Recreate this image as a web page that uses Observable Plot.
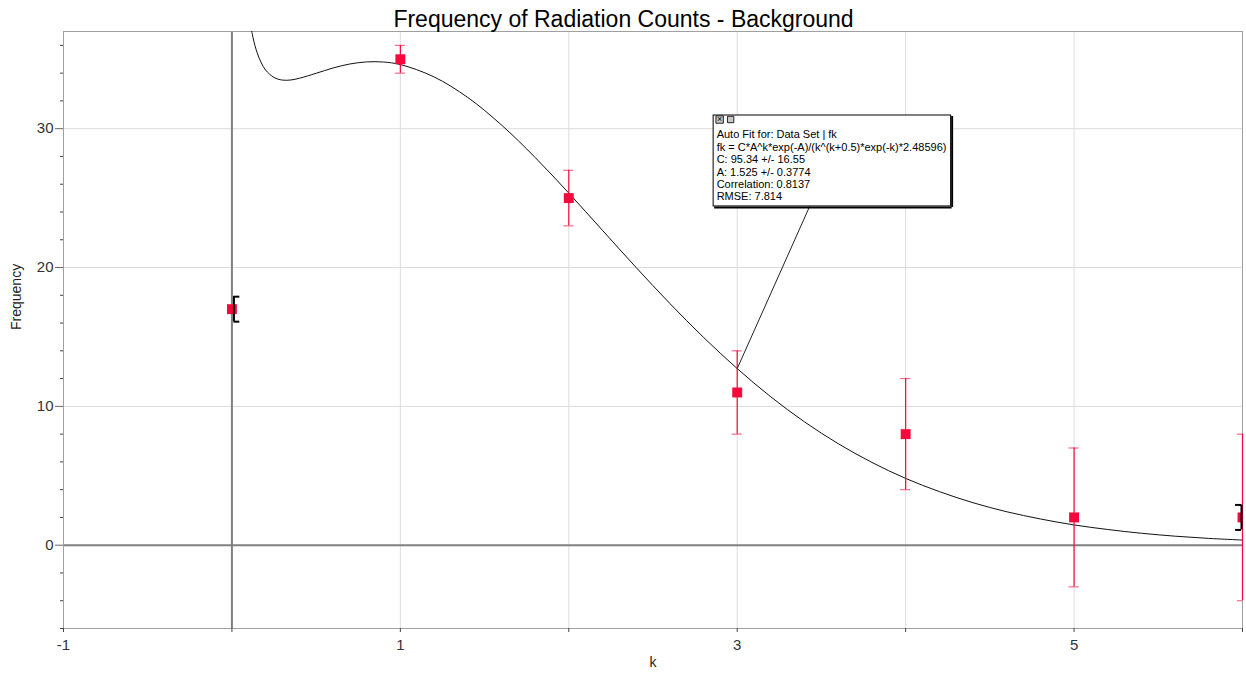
<!DOCTYPE html>
<html>
<head>
<meta charset="utf-8">
<script src="https://cdn.jsdelivr.net/npm/d3@7"></script>
<script src="https://cdn.jsdelivr.net/npm/@observablehq/plot@0.6"></script>
<style>
  body { margin: 0; background: white; }
  svg { display: block; }
</style>
</head>
<body>
<div id="chart"></div>
<script>
// ---- Data ----
const titleText = "Frequency of Radiation Counts - Background";
const kValues = [0, 1, 2, 3, 4, 5, 6];
const freqValues = [17, 35, 25, 11, 8, 2, 2];
const errValues = [0, 1, 2, 3, 4, 5, 6];

// Fit curve
const curveK = [0.1, 0.125, 0.15, 0.175, 0.2, 0.25, 0.3, 0.35, 0.4, 0.5, 0.6, 0.7, 0.8, 0.9, 1.0, 1.2, 1.4, 1.6, 1.8, 2.0, 2.2, 2.4, 2.6, 2.8, 3.0, 3.2, 3.4, 3.6, 3.8, 4.0, 4.2, 4.4, 4.6, 4.8, 5.0, 5.2, 5.4, 5.6, 5.8, 6.0];
const curveF = [38.3, 36.57, 35.46, 34.73, 34.22, 33.69, 33.50, 33.51, 33.63, 33.99, 34.37, 34.66, 34.81, 34.80, 34.62, 33.73, 32.25, 30.27, 27.93, 25.36, 22.68, 20.00, 17.41, 14.97, 12.72, 10.68, 8.88, 7.31, 5.96, 4.81, 3.86, 3.06, 2.41, 1.89, 1.46, 1.13, 0.86, 0.65, 0.49, 0.37];

// Fit range brackets
const fitRangeK = [0, 6];
const bracketHalf = 0.9;

// Tick values
const xTicks = [-1, 0, 1, 2, 3, 4, 5, 6];
const xLabelTicks = [-1, 1, 3, 5];
const yMajorTicks = [0, 10, 20, 30];
const yMinorTicks = [-6, -4, -2, 2, 4, 6, 8, 12, 14, 16, 18, 22, 24, 26, 28, 32, 34, 36];
const xGrid = [1, 2, 3, 4, 5];
const yGrid = [10, 20, 30];

// Callout annotation
const calloutLines = [
  "Auto Fit for: Data Set | fk",
  "fk = C*A^k*exp(-A)/(k^(k+0.5)*exp(-k)*2.48596)",
  "C: 95.34 +/- 16.55",
  "A: 1.525 +/- 0.3774",
  "Correlation: 0.8137",
  "RMSE: 7.814"
];
const callout = {x1: 2.86, x2: 4.27, y1: 24.4, y2: 30.95, fromK: 3.43, toK: 3.0};

// ---- Build ----
const points = kValues.map((k, i) => ({k, f: freqValues[i], e: errValues[i]}));
const errPts = points.filter(d => d.e > 0);
const curve = curveK.map((k, i) => ({k, f: curveF[i]}));
const toF = curve.find(d => d.k === callout.toK).f;
const brackets = fitRangeK.map(k => ({k, f: points.find(d => d.k === k).f}));
const red = "#f5093c";
const capW = 0.03;
const bw = 0.035;

const chart = Plot.plot({
  width: 1246,
  height: 676,
  marginTop: 31,
  marginRight: 4,
  marginBottom: 48,
  marginLeft: 63,
  style: {fontFamily: "'Liberation Sans', Arial, sans-serif", fontSize: "14px", background: "white", color: "#333"},
  x: {domain: [-1, 6], label: null},
  y: {domain: [-6, 37], label: null},
  marks: [
    Plot.gridX(xGrid, {stroke: "#dcdcdc", strokeOpacity: 1}),
    Plot.gridY(yGrid, {stroke: "#dcdcdc", strokeOpacity: 1}),
    Plot.ruleX([0], {stroke: "#808080", strokeWidth: 2}),
    Plot.ruleY([0], {stroke: "#808080", strokeWidth: 2}),
    Plot.frame({stroke: "#a0a0a0"}),
    Plot.axisY(yMajorTicks, {tickSize: 8, tickPadding: 2, fontSize: 15, stroke: "#666", fill: "#333", label: null}),
    Plot.axisY(yMinorTicks, {tickSize: 3, text: null, stroke: "#444", label: null}),
    Plot.axisX(xTicks, {tickSize: 4, tickPadding: 7, fontSize: 15, stroke: "#444", fill: "#333", label: null,
      tickFormat: d => xLabelTicks.includes(d) ? String(d) : ""}),
    // fit curve
    Plot.line(curve, {x: "k", y: "f", stroke: "#111", strokeWidth: 1, curve: "catmull-rom", clip: true}),
    // error bars
    Plot.ruleX(errPts, {x: "k", y1: d => d.f - d.e, y2: d => d.f + d.e, stroke: red, strokeWidth: 1.2}),
    Plot.ruleY(errPts, {y: d => d.f + d.e, x1: d => d.k - capW, x2: d => d.k + capW, stroke: red, strokeOpacity: 0.6, strokeWidth: 1.2, clip: true}),
    Plot.ruleY(errPts, {y: d => d.f - d.e, x1: d => d.k - capW, x2: d => d.k + capW, stroke: red, strokeOpacity: 0.6, strokeWidth: 1.2, clip: true}),
    // points
    Plot.dot(points, {x: "k", y: "f", symbol: "square", r: 5.6, fill: red, clip: true}),
    // fit range brackets
    Plot.ruleX(brackets.slice(0, 1), {x: "k", y1: d => d.f - bracketHalf, y2: d => d.f + bracketHalf, stroke: "#000", strokeWidth: 2, dx: 2}),
    Plot.ruleY(brackets.slice(0, 1), {y: d => d.f + bracketHalf, x1: "k", x2: d => d.k + bw, stroke: "#000", strokeWidth: 2, dx: 2}),
    Plot.ruleY(brackets.slice(0, 1), {y: d => d.f - bracketHalf, x1: "k", x2: d => d.k + bw, stroke: "#000", strokeWidth: 2, dx: 2}),
    Plot.ruleX(brackets.slice(1), {x: "k", y1: d => d.f - bracketHalf, y2: d => d.f + bracketHalf, stroke: "#000", strokeWidth: 2, dx: -1}),
    Plot.ruleY(brackets.slice(1), {y: d => d.f + bracketHalf, x1: d => d.k - bw, x2: "k", stroke: "#000", strokeWidth: 2, dx: -1}),
    Plot.ruleY(brackets.slice(1), {y: d => d.f - bracketHalf, x1: d => d.k - bw, x2: "k", stroke: "#000", strokeWidth: 2, dx: -1}),
    // callout
    Plot.link([callout], {x1: "fromK", y1: "y1", x2: "toK", y2: () => toF, stroke: "#222", strokeWidth: 1}),
    Plot.rect([callout], {x1: "x1", x2: "x2", y1: "y1", y2: "y2", fill: "white", stroke: "#000", strokeWidth: 1}),
    Plot.ruleX([callout], {x: "x2", y1: "y1", y2: "y2", stroke: "#000", strokeWidth: 2, dx: 1, dy: 1}),
    Plot.ruleY([callout], {y: "y1", x1: "x1", x2: "x2", stroke: "#000", strokeWidth: 2, dx: 1, dy: 1}),
    Plot.dot([callout], {x: "x1", y: "y2", symbol: "square", r: 4.2, fill: "#c8c8c8", stroke: "#222", strokeWidth: 1, dx: 6, dy: 4}),
    Plot.dot([callout], {x: "x1", y: "y2", symbol: "square", r: 3.6, fill: "#c8c8c8", stroke: "#222", strokeWidth: 1, dx: 17, dy: 4}),
    Plot.text([callout], {x: "x1", y: "y2", text: () => "×", fontSize: 9, dx: 6, dy: 4, fill: "#000"}),
    Plot.text([callout], {x: "x1", y: "y2", text: () => calloutLines.join("\n"), textAnchor: "start", lineAnchor: "top", fontSize: 11, lineHeight: 1.13, dx: 3, dy: 14, fill: "#000"}),
    // title and axis labels
    Plot.text([titleText], {frameAnchor: "top", dx: -29.5, dy: -21, fontSize: 23, fill: "#000"}),
    Plot.text(["Frequency"], {frameAnchor: "left", rotate: -90, dx: -47, fontSize: 14, fill: "#222"}),
    Plot.text(["k"], {frameAnchor: "bottom", dy: 38, fontSize: 14, fill: "#222"})
  ]
});
document.getElementById("chart").appendChild(chart);
</script>
</body>
</html>
